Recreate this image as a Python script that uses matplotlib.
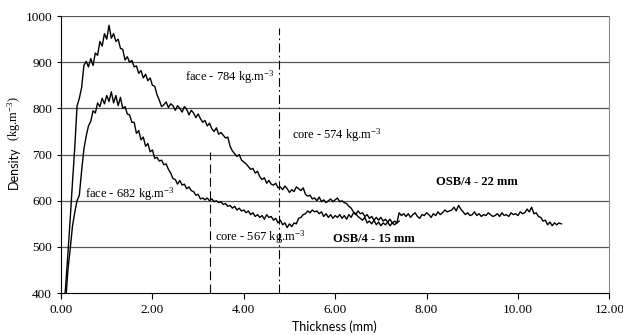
import matplotlib
matplotlib.use("Agg")
import matplotlib.pyplot as plt
import numpy as np

plt.rcParams['mathtext.default'] = 'regular'

# OSB/4 - 22 mm profile, thickness grid 0.05 mm from 0.05
x22 = np.arange(0.05, 10.951, 0.05)
d22 = [350, 415, 485, 560, 640, 715, 805, 822, 845, 893,
       902, 890, 908, 893, 920, 915, 945, 935, 962, 950,
       980, 952, 962, 945, 950, 930, 928, 905, 912, 900,
       904, 890, 892, 876, 882, 866, 874, 860, 866, 850,
       848, 830, 818, 804, 808, 814, 802, 810, 806, 796,
       806, 800, 792, 804, 798, 786, 796, 790, 780, 788,
       778, 770, 774, 762, 768, 756, 750, 758, 744, 748,
       742, 736, 738, 718, 708, 702, 696, 700, 688, 684,
       680, 674, 668, 670, 660, 664, 652, 646, 650, 638,
       644, 636, 634, 638, 628, 630, 624, 632, 626, 618,
       624, 620, 630, 626, 622, 628, 614, 610, 612, 604,
       606, 600, 608, 598, 602, 596, 600, 604, 598, 602,
       606, 598, 600, 596, 594, 588, 584, 576, 572, 566,
       562, 558, 564, 552, 556, 550, 558, 548, 554, 546,
       552, 548, 554, 546, 552, 548, 552, 574, 568, 572,
       566, 572, 564, 570, 574, 566, 562, 570, 568, 574,
       570, 564, 572, 568, 576, 570, 574, 580, 576, 578,
       580, 586, 578, 590, 582, 576, 570, 574, 568, 570,
       576, 568, 572, 566, 570, 568, 574, 570, 566, 568,
       572, 566, 574, 568, 570, 566, 574, 570, 572, 568,
       576, 572, 574, 582, 576, 586, 572, 574, 566, 564,
       556, 558, 548, 554, 546, 552, 548, 552, 550]

# OSB/4 - 15 mm profile, thickness grid 0.05 mm from 0.10
x15 = np.arange(0.10, 7.401, 0.05)
d15 = [380, 450, 495, 545, 575, 600, 612, 665, 712, 740,
       762, 772, 795, 790, 812, 804, 822, 810, 828, 815,
       836, 812, 828, 806, 824, 800, 804, 788, 786, 770,
       770, 746, 752, 732, 738, 718, 724, 706, 710, 692,
       694, 686, 688, 678, 680, 668, 660, 648, 646, 636,
       644, 634, 636, 626, 630, 622, 620, 612, 614, 604,
       606, 602, 606, 600, 604, 598, 600, 596, 598, 592,
       594, 588, 590, 584, 588, 580, 584, 578, 580, 574,
       578, 570, 574, 566, 570, 564, 568, 560, 570, 564,
       566, 558, 562, 552, 558, 548, 552, 542, 550, 544,
       552, 550, 562, 564, 570, 572, 578, 574, 580, 576,
       578, 572, 576, 566, 572, 564, 570, 562, 568, 564,
       570, 562, 568, 560, 570, 564, 574, 570, 578, 572,
       574, 566, 570, 562, 566, 558, 564, 558, 564, 556,
       560, 554, 560, 552, 556, 552, 556]

# core boundaries (mm)
core15 = 3.26
core22 = 4.77

fig = plt.figure(figsize=(6.23, 3.35), dpi=100)
ax = fig.add_axes([0.098, 0.125, 0.88, 0.827])

for yv in [500, 600, 700, 800, 900, 1000]:
    ax.axhline(yv, color="#555555", lw=0.9, zorder=1)

ax.plot(x22[:len(d22)], d22, color="black", lw=1.0, zorder=3)
ax.plot(x15[:len(d15)], d15, color="black", lw=1.0, zorder=3)

ax.plot([core15, core15], [400, 705], color="black", lw=0.8, ls=(0, (8, 4)), zorder=2)
ax.plot([core22, core22], [400, 975], color="black", lw=0.8, ls=(0, (8, 3, 1.5, 3)), zorder=2)

serif = "Liberation Serif"
ax.text(2.72, 868, "face - 784 kg.m$^{-3}$", fontsize=9, family=serif, va="center")
ax.text(5.05, 742, "core - 574 kg.m$^{-3}$", fontsize=9, family=serif, va="center")
ax.text(0.52, 614, "face - 682 kg.m$^{-3}$", fontsize=9, family=serif, va="center")
ax.text(3.38, 521, "core - 567 kg.m$^{-3}$", fontsize=9, family=serif, va="center")
ax.text(8.2, 640, "OSB/4 - 22 mm", fontsize=9, family=serif, weight="bold", va="center")
ax.text(5.95, 518, "OSB/4 - 15 mm", fontsize=9, family=serif, weight="bold", va="center")

ax.set_xlim(0, 12)
ax.set_ylim(400, 1000)
ax.set_xticks(np.arange(0, 12.1, 2))
ax.set_xticklabels(["%.2f" % v for v in np.arange(0, 12.1, 2)])
ax.set_yticks(np.arange(400, 1001, 100))
for lab in ax.get_xticklabels() + ax.get_yticklabels():
    lab.set_family(serif)
    lab.set_fontsize(9.5)
ax.tick_params(axis="x", direction="out", length=4, width=0.8, pad=4)
ax.tick_params(axis="y", direction="out", length=3, width=0.8, pad=3.5)

ax.spines["top"].set_visible(False)
ax.spines["right"].set_color("#888888")
ax.spines["left"].set_color("black")
ax.spines["bottom"].set_color("black")

# axis titles: sans for the words, serif for the unit (as in the source)
fig.text(334 / 623, 1 - 327 / 335, "Thickness (mm)", fontsize=9, family="Lato",
         ha="center", va="center")
fig.text(14 / 623, 1 - 168 / 335, "Density", fontsize=9, family="Lato",
         rotation=90, ha="center", va="center")
fig.text(14 / 623, 1 - 119 / 335, "(kg.m$^{-3}$)", fontsize=9, family=serif,
         rotation=90, ha="center", va="center")

fig.savefig("out.png", dpi=100)
